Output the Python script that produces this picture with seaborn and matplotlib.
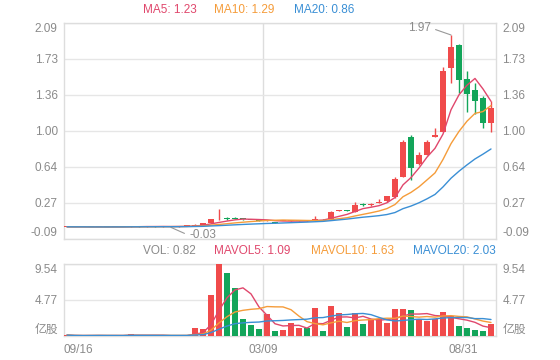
import numpy as np
import pandas as pd
import matplotlib
matplotlib.use('Agg')
import matplotlib.pyplot as plt
import seaborn as sns

# ==========================================
# DATA
# ==========================================
opens = [0.026, 0.030, 0.029, 0.030, 0.027, 0.029, 0.028, 0.031, 0.030, 0.034,
         0.033, 0.035, 0.032, 0.034, 0.031, 0.036, 0.040, 0.052, 0.066, 0.104,
         0.116, 0.118, 0.108, 0.100, 0.096, 0.090, 0.080, 0.085, 0.088, 0.092,
         0.096, 0.100, 0.106, 0.109, 0.188, 0.196, 0.180, 0.255, 0.248, 0.268,
         0.290, 0.328, 0.536, 0.934, 0.664, 0.755, 0.940, 0.990, 1.636, 1.864,
         1.519, 1.411, 1.333, 1.075]
closes = [0.030, 0.029, 0.030, 0.027, 0.029, 0.028, 0.031, 0.030, 0.034, 0.033,
          0.035, 0.032, 0.034, 0.031, 0.036, 0.040, 0.052, 0.066, 0.106, 0.106,
          0.110, 0.113, 0.105, 0.097, 0.092, 0.094, 0.072, 0.088, 0.092, 0.094,
          0.094, 0.104, 0.104, 0.183, 0.193, 0.192, 0.250, 0.250, 0.253, 0.272,
          0.340, 0.513, 0.889, 0.621, 0.755, 0.889, 0.957, 1.606, 1.848, 1.512,
          1.371, 1.300, 1.075, 1.226]
highs = [0.032, 0.031, 0.031, 0.031, 0.030, 0.030, 0.032, 0.032, 0.035, 0.035,
         0.036, 0.036, 0.035, 0.035, 0.037, 0.042, 0.055, 0.068, 0.108, 0.207,
         0.126, 0.124, 0.110, 0.102, 0.098, 0.096, 0.082, 0.090, 0.094, 0.096,
         0.098, 0.143, 0.108, 0.193, 0.196, 0.198, 0.284, 0.270, 0.270, 0.310,
         0.345, 0.530, 0.905, 0.957, 0.788, 0.906, 1.031, 1.646, 1.966, 1.875,
         1.606, 1.479, 1.350, 1.300]
lows = [0.025, 0.028, 0.028, 0.026, 0.026, 0.027, 0.027, 0.029, 0.029, 0.032,
        0.032, 0.031, 0.031, 0.024, 0.030, 0.035, 0.039, 0.050, 0.064, 0.103,
        0.100, 0.108, 0.103, 0.095, 0.090, 0.088, 0.066, 0.084, 0.087, 0.090,
        0.092, 0.099, 0.102, 0.107, 0.186, 0.190, 0.175, 0.240, 0.240, 0.266,
        0.285, 0.320, 0.530, 0.503, 0.654, 0.750, 0.938, 0.985, 1.479, 1.378,
        1.192, 1.169, 1.025, 0.984]
volumes = [0.12, 0.03, 0.04, 0.08, 0.10, 0.06, 0.05, 0.04, 0.30, 0.05,
           0.06, 0.05, 0.04, 0.05, 0.06, 0.08, 1.06, 0.90, 5.40, 9.54,
           8.40, 6.30, 2.25, 1.40, 0.90, 2.90, 0.65, 0.80, 1.70, 1.00,
           1.10, 3.75, 0.60, 4.00, 3.10, 1.20, 3.10, 1.65, 2.20, 2.30,
           1.70, 3.60, 3.55, 3.40, 2.30, 2.00, 2.30, 3.20, 2.60, 1.30,
           1.10, 0.85, 0.70, 1.55]

date_labels = ['09/16', '03/09', '08/31']
ma_legend_values = [1.23, 1.29, 0.86]
vol_legend_values = [0.82, 1.09, 1.63, 2.03]
max_price_label = '1.97'
min_price_label = '-0.03'

price_ticks = np.linspace(-0.09, 2.09, 7)
vol_ticks = [0, 4.77, 9.54]

# ==========================================
# STYLE
# ==========================================
RED = '#f04b4b'
GREEN = '#13a55a'
MA5_C = '#e0476c'
MA10_C = '#f59c3a'
MA20_C = '#3a8fd5'
GRID = '#e6e6e6'
TXT = '#8a8a8a'

sns.set_theme(style='white')
plt.rcParams['font.family'] = ['Liberation Sans', 'Noto Sans CJK SC', 'DejaVu Sans']
FS = 8.5

df = pd.DataFrame({'open': opens, 'close': closes, 'high': highs,
                   'low': lows, 'vol': volumes})
df['idx'] = np.arange(len(df))
for n in (5, 10, 20):
    df[f'ma{n}'] = df['close'].rolling(n, min_periods=1).mean()
    df[f'mavol{n}'] = df['vol'].rolling(n, min_periods=1).mean()
up = df['close'] >= df['open']
colors = np.where(up, RED, GREEN)

W, H = 560, 360
fig = plt.figure(figsize=(W / 100, H / 100), dpi=100)
ax1 = fig.add_axes([64 / W, 1 - 238.7 / H, 432 / W, 216 / H])
ax2 = fig.add_axes([64 / W, 1 - 336 / H, 432 / W, 72 / H], sharex=ax1)

# ---- price panel ----
ax1.vlines(df['idx'], df['low'], df['high'], color=colors, lw=1, zorder=3)
body_bottom = np.minimum(df['open'], df['close'])
body_h = np.maximum((df['close'] - df['open']).abs(), 0.009)
ax1.bar(df['idx'], body_h, bottom=body_bottom, width=0.72, color=colors,
        linewidth=0, zorder=3)
for col, c in (('ma5', MA5_C), ('ma10', MA10_C), ('ma20', MA20_C)):
    sns.lineplot(data=df, x='idx', y=col, ax=ax1, color=c, lw=1, zorder=4)

# max / min labels
imax = int(df['high'].idxmax())
ax1.annotate(max_price_label, xy=(imax, df['high'][imax]), xytext=(-20, 7),
             textcoords='offset pixels', ha='right', va='center', fontsize=FS,
             color=TXT, arrowprops=dict(arrowstyle='-', color='#999999', lw=0.8,
                                        shrinkA=1, shrinkB=0, relpos=(1, 0.5)))
imin = int(df['low'].idxmin())
ax1.annotate(min_price_label, xy=(imin, df['low'][imin]), xytext=(18, -8),
             textcoords='offset pixels', ha='left', va='center', fontsize=FS,
             color=TXT, arrowprops=dict(arrowstyle='-', color='#999999', lw=0.8,
                                        shrinkA=1, shrinkB=0, relpos=(0, 0.5)))

# ---- volume panel ----
ax2.bar(df['idx'], df['vol'], width=0.75, color=colors, linewidth=0, zorder=3)
for col, c in (('mavol5', MA5_C), ('mavol10', MA10_C), ('mavol20', MA20_C)):
    sns.lineplot(data=df, x='idx', y=col, ax=ax2, color=c, lw=1, zorder=4)

# ---- axes styling ----
ax1.set_xlim(-0.375, 53.625)
ax1.set_ylim(price_ticks[0], price_ticks[-1])
ax2.set_ylim(vol_ticks[0], vol_ticks[-1])

for ax in (ax1, ax2):
    ax.set_xlabel('')
    ax.set_ylabel('')
    ax.grid(False)
    for yv in ax.get_yticks():
        pass
    for s in ax.spines.values():
        s.set_color('#dddddd')
        s.set_linewidth(1)
    ax.axvline(24.5, color='#dddddd', lw=1, zorder=1)
    ax.axvline(49.5, color='#dddddd', lw=1, zorder=1)
    ax.tick_params(axis='both', length=0, labelsize=FS, labelcolor=TXT,
                   left=False, right=False, bottom=False,
                   labelleft=True, labelright=True)
    ax.tick_params(axis='y', pad=4.5)

ax1.set_yticks(price_ticks)
ax1.set_yticklabels([f'{v:.2f}' for v in price_ticks])
for v in price_ticks:
    ax1.axhline(v, color=GRID, lw=1, zorder=1)
ax2.set_yticks(vol_ticks)
ax2.set_yticklabels(['亿股'] + [f'{v:.2f}' for v in vol_ticks[1:]])
for v in vol_ticks:
    ax2.axhline(v, color=GRID, lw=1, zorder=1)

# push the edge labels inside the panels
for ax in (ax1, ax2):
    ticks = ax.yaxis.get_major_ticks()
    for lab in (ticks[0].label1, ticks[0].label2):
        lab.set_va('bottom')
    for lab in (ticks[-1].label1, ticks[-1].label2):
        lab.set_va('top')

ax1.tick_params(axis='x', labelbottom=False)
ax2.set_xticks([-0.375, 24.5, 49.5])
ax2.set_xticklabels(date_labels)
ax2.tick_params(axis='x', pad=6)
ax2.get_xticklabels()[0].set_ha('left')

# ---- legends ----
def ftext(px, py, s, c):
    fig.text(px / W, 1 - py / H, s, color=c, fontsize=FS, ha='left', va='center')

ftext(143, 10, f'MA5: {ma_legend_values[0]:.2f}', MA5_C)
ftext(214, 10, f'MA10: {ma_legend_values[1]:.2f}', MA10_C)
ftext(294, 10, f'MA20: {ma_legend_values[2]:.2f}', MA20_C)
ftext(143, 251, f'VOL: {vol_legend_values[0]:.2f}', TXT)
ftext(214, 251, f'MAVOL5: {vol_legend_values[1]:.2f}', MA5_C)
ftext(311, 251, f'MAVOL10: {vol_legend_values[2]:.2f}', MA10_C)
ftext(413, 251, f'MAVOL20: {vol_legend_values[3]:.2f}', MA20_C)

fig.savefig('out.png', dpi=100)
plt.close(fig)
